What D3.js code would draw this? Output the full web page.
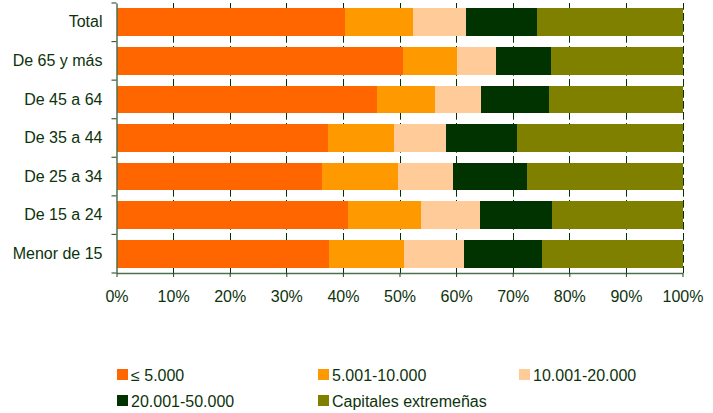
<!DOCTYPE html>
<html><head><meta charset="utf-8">
<script src="https://cdn.jsdelivr.net/npm/d3@7"></script>
<style>body{margin:0;background:#fff}svg{display:block}text{font-family:"Liberation Sans",Arial,sans-serif;fill:#0d330d}</style>
</head><body>
<svg id="c" width="713" height="413"></svg>
<script>
const categories = ["Total","De 65 y más","De 45 a 64","De 35 a 44","De 25 a 34","De 15 a 24","Menor de 15"];
const seriesNames = ["≤ 5.000","5.001-10.000","10.001-20.000","20.001-50.000","Capitales extremeñas"];
const s1 = [40.4, 50.6, 46.0, 37.4, 36.3, 40.9, 37.5];
const s2 = [12.0,  9.6, 10.3, 11.6, 13.4, 12.9, 13.3];
const s3 = [ 9.3,  6.8,  8.1,  9.2,  9.8, 10.4, 10.6];
const s4 = [12.6,  9.8, 12.0, 12.6, 13.0, 12.7, 13.8];
const s5 = [25.7, 23.2, 23.6, 29.2, 27.5, 23.1, 24.8];
const colors = ["#ff6600","#ff9900","#ffcc99","#003300","#808000"];
const xTicks = [0,0.1,0.2,0.3,0.4,0.5,0.6,0.7,0.8,0.9,1];

const series = [s1,s2,s3,s4,s5];
const rows = categories.map((c,i)=>{const o={cat:c};series.forEach((s,k)=>o["k"+k]=s[i]);return o;});
const keys = series.map((_,k)=>"k"+k);
const stacked = d3.stack().keys(keys).offset(d3.stackOffsetExpand)(rows);

const svg = d3.select("#c");
const L=116.5, R=682.5, T=3, B=273;
const FS="16px";
const x = d3.scaleLinear().domain([0,1]).range([L,R]);
const y = d3.scaleBand().domain(categories).range([T,B]).paddingInner(0.28).paddingOuter(0.14);

// dashed gridlines
svg.append("g").selectAll("line").data(xTicks.slice(1)).join("line")
  .attr("x1",d=>Math.round(x(d))+0.5).attr("x2",d=>Math.round(x(d))+0.5)
  .attr("y1",T).attr("y2",B)
  .attr("stroke","#003300").attr("stroke-width",1)
  .attr("stroke-dasharray","7.7,3.3").attr("stroke-dashoffset",1);

// bars
svg.append("g").selectAll("g").data(stacked).join("g")
  .attr("fill",(d,i)=>colors[i])
  .selectAll("rect").data(d=>d).join("rect")
  .attr("x",d=>x(d[0])).attr("width",d=>x(d[1])-x(d[0]))
  .attr("y",d=>y(d.data.cat)).attr("height",y.bandwidth())
  .attr("shape-rendering","crispEdges");

// x axis
const xa = svg.append("g").attr("transform",`translate(0,${B})`)
  .call(d3.axisBottom(x).tickValues(xTicks).tickFormat(d3.format(".0%")).tickSize(4).tickSizeOuter(0));
xa.select(".domain").attr("stroke","#4f6f4f").attr("stroke-width",1.5);
xa.selectAll(".tick line").attr("stroke","#1f441f");
xa.selectAll(".tick text").attr("font-size",FS).attr("dy","1.38em").attr("fill","#0d330d");

// y axis
const ya = svg.append("g").attr("transform",`translate(${L},0)`)
  .call(d3.axisLeft(y).tickSize(0).tickPadding(14));
ya.select(".domain").attr("stroke","#4f6f4f").attr("stroke-width",1.5);
ya.selectAll(".tick text").attr("font-size",FS).attr("fill","#0d330d");
// category boundary ticks
const bounds = d3.range(categories.length+1).map(i=>T + i*y.step());
svg.append("g").selectAll("line").data(bounds).join("line")
  .attr("x1",L-5).attr("x2",L).attr("y1",d=>d).attr("y2",d=>d)
  .attr("stroke","#3f5f3f").attr("stroke-width",1.2);

// legend
const legPos = [[117,375],[318,375],[519,375],[117,401],[318,401]];
const lg = svg.append("g").selectAll("g").data(seriesNames).join("g")
  .attr("transform",(d,i)=>`translate(${legPos[i][0]},${legPos[i][1]})`);
lg.append("rect").attr("x",0).attr("y",-6).attr("width",11).attr("height",11).attr("fill",(d,i)=>colors[i]);
lg.append("text").attr("x",14).attr("y",0).attr("dy","0.35em").attr("font-size",FS).text(d=>d);
</script>
</body></html>
